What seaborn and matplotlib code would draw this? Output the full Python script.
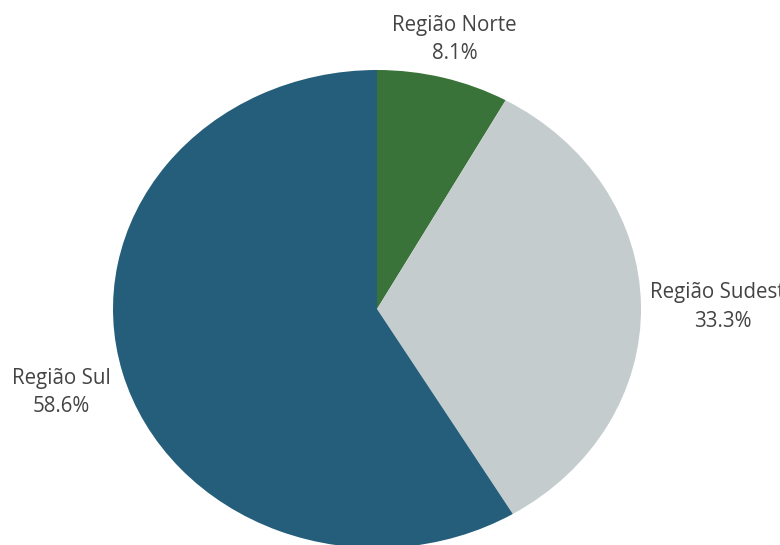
import matplotlib
matplotlib.use("Agg")
import matplotlib.pyplot as plt
import seaborn as sns
import numpy as np

categories = ["Região Norte", "Região Sudeste", "Região Sul"]
values = [8.1, 33.3, 58.6]
colors = ["#3A7339", "#C4CCCD", "#255E7A"]

sns.set_theme(style="white")
plt.rcParams["font.family"] = ["Open Sans", "DejaVu Sans"]

fig = plt.figure(figsize=(7.8, 5.45), dpi=100)
W, H = 780, 545
cx, cy, rx, ry = 377, 309, 264, 239
ax = fig.add_axes([(cx - rx) / W, (H - cy - ry) / H, 2 * rx / W, 2 * ry / H])

wedges, _ = ax.pie(values, colors=colors, startangle=90, counterclock=False,
                   radius=1, center=(0, 0), frame=False,
                   wedgeprops=dict(linewidth=0))
ax.set_xlim(-1, 1)
ax.set_ylim(-1, 1)
ax.set_aspect("auto")
ax.axis("off")
for w in wedges:
    w.set_clip_on(False)

# label placement: (radial factor x, radial factor y) relative to mid-angle
offsets = [(1.17, 1.165), (1.31, 1.0), (1.24, 1.31)]
start = 90.0
for cat, val, (fx, fy) in zip(categories, values, offsets):
    ang = np.deg2rad(start - val * 3.6 / 2)
    start -= val * 3.6
    x, y = fx * np.cos(ang), fy * np.sin(ang)
    if abs(y) < 0.05:
        y = 0.008
    ax.text(x, y, f"{cat}\n{val:.1f}%", ha="center", va="center",
            multialignment="center", fontsize=14.8, color="#444444",
            linespacing=1.45, clip_on=False)

fig.savefig("out.png", dpi=100)
